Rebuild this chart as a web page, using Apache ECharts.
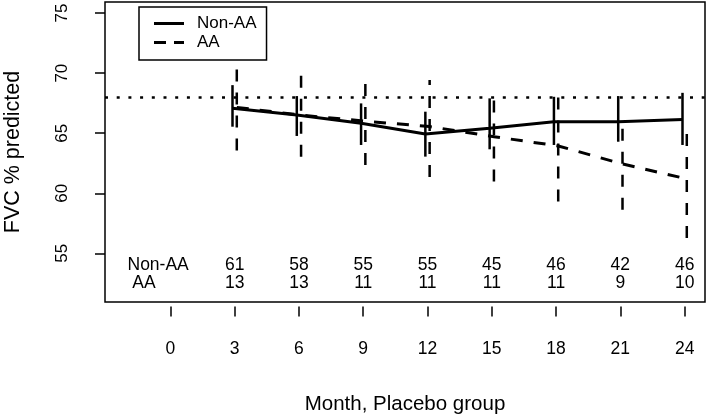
<!DOCTYPE html>
<html><head><meta charset="utf-8">
<script src="https://cdn.jsdelivr.net/npm/echarts@6/dist/echarts.min.js"></script>
<style>html,body{margin:0;padding:0;background:#fff}#c{width:709px;height:419px}</style>
</head><body><div id="c"></div>
<script>
// ---- data ----
const months = [3, 6, 9, 12, 15, 18, 21, 24];
const xTicks = [0, 3, 6, 9, 12, 15, 18, 21, 24];
const yTicks = [55, 60, 65, 70, 75];
const nonAAMean = [67.07, 66.51, 65.82, 64.93, 65.41, 65.96, 65.96, 66.15];
const nonAALow  = [65.54, 64.77, 64.02, 63.05, 63.66, 64.02, 64.29, 64.02];
const nonAAHigh = [69.00, 68.09, 67.48, 66.79, 67.90, 68.03, 68.09, 68.36];
const aaMean = [67.15, 66.50, 66.00, 65.55, 64.71, 63.94, 62.44, 61.20];
const aaLow  = [63.55, 63.05, 62.36, 61.36, 60.97, 59.31, 58.62, 56.27];
const aaHigh = [70.52, 69.83, 69.36, 69.42, 67.76, 68.17, 65.60, 65.21];
const nonAACounts = [61, 58, 55, 55, 45, 46, 42, 46];
const aaCounts = [13, 13, 11, 11, 11, 11, 9, 10];
const rowLabels = ['Non-AA', ' AA'];
const referenceLevel = 68.0;
const seriesNames = ['Non-AA', 'AA'];

// ---- layout / style ----
const FONT = '"Liberation Sans", Arial, Helvetica, sans-serif';
const DODGE = 0.1;
const ROW_Y = [54.05, 52.53];
const ROW_LABEL_X = -2;
const DASH = [12, 11];
const LW = 2.5;

function errBarRender(dash) {
  return function (params, api) {
    const x = api.value(0);
    const p1 = api.coord([x, api.value(1)]);
    const p2 = api.coord([x, api.value(2)]);
    return {
      type: 'line',
      shape: { x1: p1[0], y1: p1[1], x2: p2[0], y2: p2[1] },
      style: { stroke: '#000', lineWidth: LW, lineDash: dash }
    };
  };
}
function textRender(texts, align) {
  return function (params, api) {
    const p = api.coord([api.value(0), api.value(1)]);
    return {
      type: 'text',
      x: p[0], y: p[1],
      style: {
        text: String(texts[params.dataIndex]),
        fill: '#000', font: '17.5px ' + FONT,
        align: align, verticalAlign: 'middle'
      }
    };
  };
}

const countPos = [], countText = [];
months.forEach((m, i) => { countPos.push([m, ROW_Y[0]]); countText.push(nonAACounts[i]); });
months.forEach((m, i) => { countPos.push([m, ROW_Y[1]]); countText.push(aaCounts[i]); });
const rowLabelPos = rowLabels.map((t, i) => [ROW_LABEL_X, ROW_Y[i]]);

const chart = echarts.init(document.getElementById('c'));
chart.setOption({
  animation: false,
  backgroundColor: '#fff',
  textStyle: { fontFamily: FONT },
  grid: {
    left: 105, right: 4, top: 2, bottom: 117,
    containLabel: false, outerBoundsMode: 'none',
    show: true, borderColor: '#000', borderWidth: 1.5, backgroundColor: 'transparent'
  },
  legend: {
    data: [
      { name: seriesNames[0], icon: 'rect' },
      { name: seriesNames[1], icon: 'path://M0,0h12v3h-12z M20,0h10v3h-10z' }
    ],
    orient: 'vertical',
    left: 139, top: 7,
    padding: [7, 10, 8, 15],
    itemWidth: 30, itemHeight: 3, itemGap: 0,
    itemStyle: { color: '#000' },
    borderColor: '#000', borderWidth: 1.5,
    textStyle: { fontSize: 17, color: '#000', fontFamily: FONT, padding: [0, 0, 0, 8], lineHeight: 19 }
  },
  xAxis: {
    type: 'value', min: -3.05, max: 24.95,
    offset: 4.5,
    splitLine: { show: false },
    axisLine: { show: false, onZero: false },
    axisTick: { show: true, length: 10, customValues: xTicks, lineStyle: { color: '#000', width: 1.5 } },
    axisLabel: { customValues: xTicks, margin: 34, fontSize: 17.5, color: '#000', fontFamily: FONT },
    name: 'Month, Placebo group', nameLocation: 'middle', nameGap: 87,
    nameTextStyle: { fontSize: 20.5, color: '#000', fontFamily: FONT }
  },
  yAxis: {
    type: 'value', min: 50.95, max: 75.92,
    splitLine: { show: false },
    axisLine: { show: false, onZero: false },
    axisTick: { show: true, length: 10, customValues: yTicks, lineStyle: { color: '#000', width: 1.5 } },
    axisLabel: { customValues: yTicks, rotate: 90, margin: 34, fontSize: 17, color: '#000', fontFamily: FONT },
    name: 'FVC % predicted', nameLocation: 'middle', nameGap: 81,
    nameTextStyle: { fontSize: 21.5, color: '#000', fontFamily: FONT }
  },
  series: [
    {
      name: seriesNames[0], type: 'line', symbol: 'none',
      data: months.map((m, i) => [m - DODGE, nonAAMean[i]]),
      lineStyle: { color: '#000', width: 3, type: 'solid' },
      itemStyle: { color: '#000' },
      markLine: {
        silent: true, symbol: 'none', label: { show: false },
        lineStyle: { color: '#000', width: 2.5, type: [3, 8.7] },
        data: [{ yAxis: referenceLevel }]
      },
      z: 3
    },
    {
      name: seriesNames[1], type: 'line', symbol: 'none',
      data: months.map((m, i) => [m + DODGE, aaMean[i]]),
      lineStyle: { color: '#000', width: 3, type: DASH },
      itemStyle: { color: '#000' },
      z: 3
    },
    {
      name: 'nonAAErr', type: 'custom', renderItem: errBarRender(null),
      data: months.map((m, i) => [m - DODGE, nonAALow[i], nonAAHigh[i]]),
      encode: { x: 0, y: [1, 2] }, z: 4
    },
    {
      name: 'aaErr', type: 'custom', renderItem: errBarRender(DASH),
      data: months.map((m, i) => [m + DODGE, aaLow[i], aaHigh[i]]),
      encode: { x: 0, y: [1, 2] }, z: 4
    },
    {
      name: 'counts', type: 'custom', renderItem: textRender(countText, 'center'),
      data: countPos, encode: { x: 0, y: 1 }, z: 5
    },
    {
      name: 'rowLabels', type: 'custom', renderItem: textRender(rowLabels, 'left'),
      data: rowLabelPos, encode: { x: 0, y: 1 }, z: 5
    }
  ]
});
</script>
</body></html>
